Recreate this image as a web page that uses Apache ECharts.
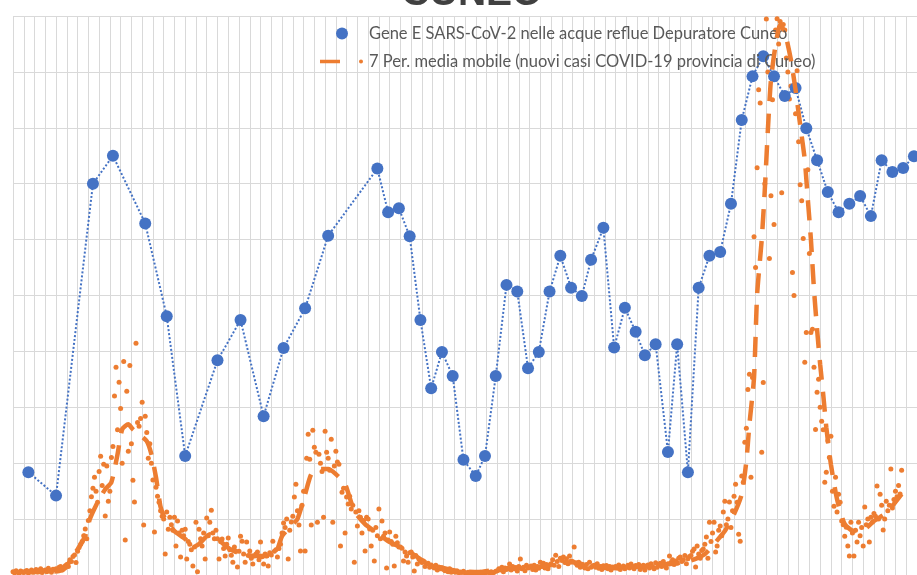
<!DOCTYPE html>
<html>
<head>
<meta charset="utf-8">
<script src="https://cdn.jsdelivr.net/npm/echarts@6/dist/echarts.min.js"></script>
<style>
  html, body { margin: 0; padding: 0; background: #fff; }
  #chart { width: 917px; height: 575px; }
</style>
</head>
<body>
<div id="chart"></div>
<script>
// giorni dall'inizio del periodo (asse x in giorni, griglia settimanale)
const geneDays = [10, 28, 52, 65, 86, 100, 112, 133, 148, 163, 176, 190, 205, 237, 244,
  251, 258, 265, 272, 279, 286, 293, 301, 307, 314, 321, 328, 335, 342, 349,
  356, 363, 370, 376, 384, 391, 398, 405, 411, 418, 426, 432, 439, 446, 453,
  460, 467, 474, 481, 488, 495, 502, 509, 516, 523, 530, 537, 544, 551, 558,
  565, 572, 579, 586];
// Gene E nelle acque reflue (unità dell'asse principale)
const geneValues = [1.84, 1.42, 7.0, 7.5, 6.29, 4.63, 2.13, 3.84, 4.56, 2.84, 4.06, 4.77, 6.07, 7.27, 6.49,
  6.56, 6.06, 4.56, 3.34, 3.99, 3.56, 2.06, 1.77, 2.13, 3.56, 5.19, 5.07, 3.70, 3.99, 5.07,
  5.71, 5.14, 4.99, 5.64, 6.21, 4.07, 4.78, 4.35, 3.93, 4.13, 2.20, 4.13, 1.84, 5.14, 5.71,
  5.78, 6.64, 8.14, 8.92, 9.28, 8.92, 8.57, 8.71, 7.99, 7.42, 6.85, 6.49, 6.64, 6.78, 6.42,
  7.42, 7.21, 7.28, 7.49];

// nuovi casi giornalieri, una riga per settimana (giorno 0 .. 578)
const dailyCases = [
  12, 8, 15, 10, 6, 14, 11,
  9, 13, 16, 7, 12, 18, 10,
  14, 20, 11, 17, 22, 9, 15,
  18, 12, 24, 16, 10, 21, 19,
  22, 15, 28, 30, 18, 25, 33,
  38, 30, 55, 48, 66, 72, 45,
  85, 98, 110, 120, 140, 165, 130,
  195, 230, 280, 310, 350, 300, 260,
  370, 425, 320, 396, 211, 390, 264,
  300, 420, 460, 640, 743, 520, 690,
  596, 400, 764, 125, 657, 443, 750,
  470, 339, 261, 829, 546, 532, 560,
  618, 179, 568, 510, 418, 470, 400,
  340, 154, 314, 282, 260, 230, 210,
  200, 75, 225, 164, 207, 180, 160,
  207, 104, 193, 150, 64, 160, 140,
  164, 57, 120, 110, 90, 32, 100,
  189, 12, 164, 130, 104, 150, 57,
  204, 140, 189, 232, 150, 130, 160,
  130, 57, 120, 129, 95, 68, 110,
  132, 90, 71, 46, 100, 85, 29,
  85, 139, 121, 75, 46, 118, 70,
  86, 60, 39, 68, 75, 82, 55,
  118, 65, 39, 75, 68, 32, 80,
  72, 121, 85, 90, 64, 95, 110,
  150, 186, 170, 200, 57, 160, 190,
  210, 279, 325, 230, 179, 86, 250,
  300, 86, 418, 504, 414, 179, 518,
  457, 439, 189, 432, 400, 370, 207,
  514, 439, 418, 375, 486, 189, 390,
  443, 404, 396, 104, 296, 310, 150,
  279, 254, 282, 236, 250, 46, 225,
  175, 230, 207, 150, 195, 86, 207,
  200, 165, 104, 160, 50, 170, 140,
  236, 130, 193, 139, 150, 25, 125,
  154, 120, 110, 32, 139, 115, 100,
  100, 96, 50, 82, 68, 46, 80,
  82, 64, 14, 70, 39, 57, 50,
  45, 50, 30, 40, 42, 28, 36,
  30, 25, 35, 18, 28, 22, 26,
  20, 15, 18, 12, 22, 10, 16,
  12, 10, 14, 8, 11, 9, 13,
  8, 6, 10, 7, 9, 5, 8,
  7, 9, 6, 10, 8, 5, 9,
  9, 11, 8, 12, 7, 10, 13,
  15, 22, 18, 28, 12, 25, 20,
  24, 39, 18, 30, 22, 27, 14,
  30, 57, 22, 28, 15, 35, 25,
  28, 32, 20, 35, 18, 30, 24,
  46, 30, 42, 25, 38, 22, 35,
  40, 55, 35, 71, 48, 30, 60,
  52, 64, 45, 58, 40, 68, 50,
  48, 100, 42, 35, 46, 28, 38,
  30, 25, 38, 22, 46, 28, 32,
  35, 28, 40, 24, 30, 20, 33,
  26, 34, 22, 30, 18, 28, 25,
  30, 24, 36, 20, 28, 32, 22,
  28, 35, 25, 39, 30, 22, 34,
  30, 38, 20, 28, 35, 18, 32,
  36, 25, 40, 30, 22, 44, 28,
  35, 42, 30, 48, 38, 25, 40,
  68, 45, 55, 38, 50, 42, 60,
  64, 48, 55, 70, 40, 58, 66,
  70, 85, 93, 29, 104, 75, 60,
  88, 93, 110, 136, 60, 189, 120,
  150, 189, 82, 104, 160, 175, 140,
  225, 264, 180, 200, 261, 170, 230,
  282, 325, 260, 146, 121, 354, 332,
  475, 525, 664, 718, 350, 707, 1210,
  1100, 1457, 1736, 1689, 439, 689, 1400,
  1989, 1800, 1132, 1357, 1700, 1254, 1950,
  1990, 1900, 1980, 1368, 1970, 1950, 1850,
  1800, 1703, 1750, 1082, 1000, 1650, 1804,
  1550, 1396, 1339, 1204, 761, 868, 1450,
  1150, 868, 879, 743, 521, 654, 700,
  600, 550, 520, 332, 368, 480, 420,
  496, 300, 246, 350, 225, 289, 260,
  193, 180, 139, 171, 104, 68, 189,
  150, 68, 160, 118, 189, 140, 170,
  104, 243, 180, 200, 118, 207, 190,
  220, 210, 318, 200, 289, 250, 161,
  200, 264, 230, 250, 379, 240, 270,
  300, 280, 320, 290, 375
];

// media mobile a 7 periodi: [giorno, casi]
const movingAvg = [
  [6, 11], [17, 11], [30, 14], [34, 25], [37, 50], [40, 75], [43, 100], [47, 140], [50, 200],
  [55, 260], [60, 307], [64, 332], [68, 432], [71, 521], [75, 539], [78, 521], [82, 503],
  [87, 479], [90, 432], [93, 350], [96, 243], [99, 200], [105, 157], [112, 129], [117, 100],
  [121, 111], [128, 146], [133, 129], [141, 93], [151, 71], [160, 68], [170, 71], [175, 139],
  [180, 171], [185, 200], [190, 289], [194, 361], [199, 379], [205, 379], [210, 361],
  [216, 325], [222, 229], [229, 182], [235, 157], [245, 118], [255, 93], [261, 71], [268, 46],
  [277, 29], [290, 14], [303, 11], [316, 21], [329, 25], [342, 29], [355, 43], [365, 46],
  [375, 32], [388, 29], [401, 29], [414, 32], [427, 39], [440, 50], [450, 75], [456, 111],
  [463, 157], [469, 218], [474, 289], [477, 407], [479, 539], [482, 707], [484, 1003],
  [487, 1200], [489, 1378], [491, 1593], [493, 1771], [496, 1896], [499, 1968], [502, 1943],
  [506, 1843], [509, 1736], [512, 1611], [515, 1486], [517, 1343], [519, 1200], [521, 1021],
  [523, 879], [525, 754], [527, 646], [529, 529], [532, 396], [536, 271], [541, 182],
  [547, 157], [554, 164], [560, 193], [567, 218], [573, 254], [578, 289]
];

const geneName = 'Gene E SARS-CoV-2 nelle acque reflue Depuratore Cuneo';
const avgName = '7 Per. media mobile (nuovi casi COVID-19 provincia di Cuneo)';

const chart = echarts.init(document.getElementById('chart'));

const option = {
  animation: false,
  backgroundColor: '#fff',
  graphic: [{
    type: 'text',
    x: 472,
    y: -6,
    style: {
      text: 'CUNEO',
      font: 'bold 39px "Liberation Sans"',
      fill: '#404040',
      align: 'center',
      verticalAlign: 'middle',
    },
  }],
  legend: {
    orient: 'vertical',
    left: 320,
    top: 25,
    padding: 0,
    itemWidth: 44,
    itemHeight: 12,
    itemGap: 11,
    selectedMode: false,
    itemStyle: { borderWidth: 0 },
    textStyle: {
      fontFamily: 'Lato',
      fontSize: 16.5,
      lineHeight: 16,
      color: '#595959',
    },
    data: [
      { name: geneName, icon: 'circle' },
      { name: avgName, icon: 'path://M0,0L0,0ZM0,4.3H20V7.7H0ZM39,6A2,2,0,1,0,43,6A2,2,0,1,0,39,6ZM44,12L44,12Z' },
    ],
  },
  grid: {
    left: 13,
    right: 0,
    top: 16,
    height: 560,
  },
  xAxis: {
    type: 'value',
    min: 0,
    max: 588,
    interval: 7,
    axisLine: { show: false },
    axisTick: { show: false },
    axisLabel: { show: false },
    splitLine: { lineStyle: { color: '#d9d9d9', width: 1 } },
  },
  yAxis: [
    {
      type: 'value',
      min: 0,
      max: 10,
      interval: 1,
      axisLine: { show: false },
      axisTick: { show: false },
      axisLabel: { show: false },
      splitLine: { lineStyle: { color: '#d9d9d9', width: 1 } },
    },
    {
      type: 'value',
      min: 0,
      max: 2000,
      interval: 200,
      show: false,
      splitLine: { show: false },
    },
  ],
  series: [
    {
      name: 'Nuovi casi COVID-19 provincia di Cuneo',
      type: 'scatter',
      yAxisIndex: 1,
      symbolSize: 5,
      itemStyle: { color: '#ED7D31', opacity: 1 },
      data: dailyCases.map((v, i) => [i, v]),
      z: 2,
    },
    {
      name: geneName,
      type: 'line',
      data: geneDays.map((d, i) => [d, geneValues[i]]),
      symbol: 'circle',
      symbolSize: 12,
      lineStyle: { color: '#4472C4', width: 2, type: 'dotted' },
      itemStyle: { color: '#4472C4' },
      z: 3,
    },
    {
      name: avgName,
      type: 'line',
      yAxisIndex: 1,
      data: movingAvg,
      showSymbol: false,
      smooth: 0.2,
      lineStyle: { color: '#ED7D31', width: 4.5, type: [20, 12] },
      itemStyle: { color: '#ED7D31' },
      z: 5,
    },
  ],
};

chart.setOption(option);
</script>
</body>
</html>
